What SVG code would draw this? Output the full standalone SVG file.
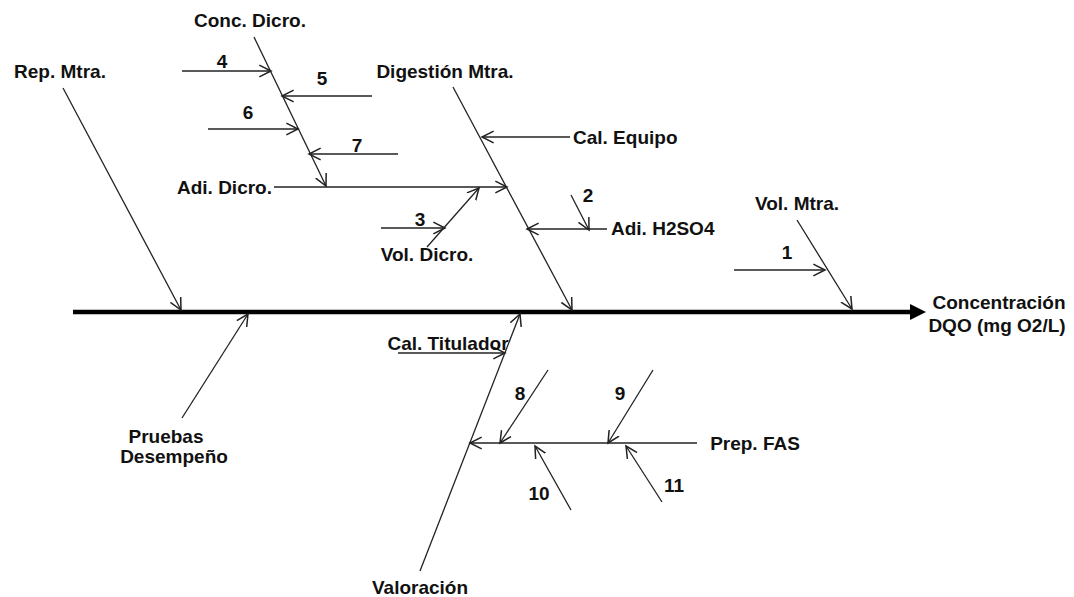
<svg xmlns="http://www.w3.org/2000/svg" width="1074" height="597" viewBox="0 0 1074 597">
<style>
text{font-family:"Liberation Sans",Arial,sans-serif;font-weight:bold;font-size:19px;fill:#111;dominant-baseline:central}
.m{text-anchor:middle}.e{text-anchor:end}
.l{stroke:#222;stroke-width:1.3;fill:none;marker-end:url(#a)}
</style>
<defs>
<marker id="a" markerUnits="userSpaceOnUse" markerWidth="14" markerHeight="14" refX="10" refY="5" orient="auto" viewBox="0 0 12 10">
<path d="M0,0 L10,5 L0,10" fill="none" stroke="#222" stroke-width="1.3"/>
</marker>
</defs>
<rect width="1074" height="597" fill="#fff"/>
<g id="connectors">
<line x1="73" y1="312" x2="912" y2="312" stroke="#000" stroke-width="4.5"/>
<polygon points="910,304 926,312 910,320" fill="#000"/>
<line class="l" x1="63" y1="88" x2="181" y2="310"/>
<line class="l" x1="254" y1="37" x2="326" y2="186"/>
<line class="l" x1="182" y1="71" x2="271" y2="71"/>
<line class="l" x1="372" y1="96" x2="282" y2="96"/>
<line class="l" x1="208" y1="129" x2="298" y2="129"/>
<line class="l" x1="398" y1="154" x2="309" y2="154"/>
<line class="l" x1="274" y1="187" x2="507" y2="187"/>
<line class="l" x1="453" y1="87" x2="572" y2="310"/>
<line class="l" x1="570" y1="137" x2="482" y2="137"/>
<line class="l" x1="427" y1="247" x2="479" y2="188"/>
<line class="l" x1="381" y1="228" x2="445" y2="228"/>
<line class="l" x1="607" y1="229" x2="527" y2="229"/>
<line class="l" x1="571" y1="195" x2="589" y2="230"/>
<line class="l" x1="797" y1="220" x2="852" y2="309"/>
<line class="l" x1="734" y1="270" x2="825" y2="270"/>
<line class="l" x1="182" y1="418" x2="248" y2="314"/>
<line class="l" x1="420" y1="571" x2="520" y2="314"/>
<line class="l" x1="398" y1="353" x2="505" y2="353"/>
<line class="l" x1="697" y1="443" x2="470" y2="443"/>
<line class="l" x1="548" y1="370" x2="500" y2="443"/>
<line class="l" x1="653" y1="370" x2="608" y2="443"/>
<line class="l" x1="571" y1="510" x2="535" y2="446"/>
<line class="l" x1="662" y1="502" x2="626" y2="446"/>
</g>
<g id="rep-mtra"><text class="m" x="60" y="71">Rep. Mtra.</text></g>
<g id="conc-dicro"><text class="m" x="250" y="20">Conc. Dicro.</text></g>
<g id="digestion-mtra"><text class="m" x="445" y="71">Digestión Mtra.</text></g>
<g id="n4"><text class="m" x="222" y="61">4</text></g>
<g id="n5"><text class="m" x="322" y="78">5</text></g>
<g id="n6"><text class="m" x="248" y="112">6</text></g>
<g id="n7"><text class="m" x="357" y="145">7</text></g>
<g id="adi-dicro"><text class="e" x="272" y="187">Adi. Dicro.</text></g>
<g id="cal-equipo"><text x="573" y="137">Cal. Equipo</text></g>
<g id="n3"><text class="m" x="420" y="219">3</text></g>
<g id="vol-dicro"><text class="m" x="427" y="254">Vol. Dicro.</text></g>
<g id="n2"><text class="m" x="588" y="195">2</text></g>
<g id="adi-h2so4"><text x="611" y="228">Adi. H2SO4</text></g>
<g id="vol-mtra"><text class="m" x="797" y="203">Vol. Mtra.</text></g>
<g id="n1"><text class="m" x="787" y="252">1</text></g>
<g id="effect"><text class="m" x="999" y="302">Concentración</text><text class="m" x="997" y="325">DQO (mg O2/L)</text></g>
<g id="pruebas"><text class="m" x="166" y="436">Pruebas</text><text class="m" x="174" y="456">Desempeño</text></g>
<g id="cal-titulador"><text class="m" x="448" y="343">Cal. Titulador</text></g>
<g id="n8"><text class="m" x="520" y="393">8</text></g>
<g id="n9"><text class="m" x="620" y="393">9</text></g>
<g id="n10"><text class="m" x="539" y="493">10</text></g>
<g id="n11"><text class="m" x="674" y="485">11</text></g>
<g id="prep-fas"><text class="m" x="755" y="443">Prep. FAS</text></g>
<g id="valoracion"><text class="m" x="420" y="587">Valoración</text></g>
</svg>
